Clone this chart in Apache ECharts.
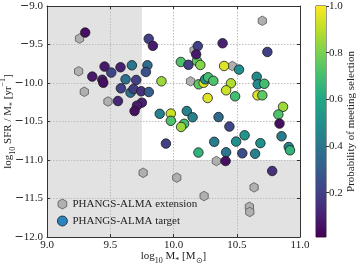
<!DOCTYPE html>
<html><head><meta charset="utf-8">
<script src="https://cdn.jsdelivr.net/npm/echarts@6/dist/echarts.min.js"></script>
<style>html,body{margin:0;padding:0;background:#fff}#c{width:357px;height:263px}</style>
</head><body><div id="c"></div>
<script>
// ---- data ----
const targetMass = [9.302,9.358,9.455,9.437,9.445,9.508,9.581,9.671,9.621,9.705,9.561,9.584,9.660,9.684,9.745,9.805,9.750,9.711,9.692,9.804,9.837,9.794,9.782,9.905,9.891,9.979,9.979,10.058,10.118,10.185,10.212,10.192,10.179,10.388,10.400,10.518,10.199,10.238,10.250,10.274,10.315,10.270,10.454,10.416,10.487,10.658,10.666,10.718,10.664,10.702,10.742,10.105,10.151,10.084,10.060,10.356,10.442,10.866,10.829,10.838,9.940,10.197,10.322,10.416,10.495,10.562,10.544,10.645,10.687,10.854,10.911,10.921,10.412,10.780];
const targetSSFR = [-9.345,-9.917,-9.787,-9.958,-9.997,-9.865,-9.796,-9.770,-9.952,-9.961,-10.234,-10.069,-10.125,-10.078,-10.108,-10.117,-10.255,-10.294,-10.364,-9.426,-9.517,-9.770,-9.857,-9.978,-10.400,-10.397,-10.491,-9.727,-9.764,-9.714,-9.766,-9.521,-9.627,-9.484,-9.779,-9.826,-10.017,-9.997,-9.952,-9.926,-9.971,-10.195,-10.004,-10.095,-10.173,-9.919,-10.017,-10.010,-10.160,-10.160,-9.597,-10.364,-10.445,-10.530,-10.571,-10.442,-10.566,-10.309,-10.409,-10.527,-10.787,-10.903,-10.764,-10.900,-10.761,-10.679,-10.913,-10.919,-10.781,-10.692,-10.831,-10.874,-11.013,-11.143];
const targetProb = [0.05,0.08,0.08,0.08,0.05,0.22,0.10,0.40,0.38,0.20,0.12,0.20,0.38,0.18,0.15,0.30,0.10,0.08,0.05,0.20,0.08,0.35,0.25,0.85,0.45,0.92,0.72,0.72,0.20,0.75,0.82,0.20,0.08,0.10,0.95,0.50,0.75,0.95,0.50,0.70,0.72,0.95,0.88,0.92,0.70,0.48,0.48,0.70,0.95,0.75,0.20,0.45,0.45,0.70,0.85,0.35,0.22,0.85,0.72,0.05,0.20,0.65,0.42,0.40,0.50,0.52,0.25,0.45,0.50,0.42,0.45,0.65,0.05,0.15];
const extMass = [9.257,9.250,9.295,9.482,10.163,10.465,10.702,10.135,10.339,9.760,10.026,10.637,10.242,10.600,10.603];
const extSSFR = [-9.423,-9.848,-10.114,-10.240,-9.575,-9.779,-9.192,-9.978,-11.013,-11.166,-11.229,-11.355,-11.468,-11.608,-11.675];
const seriesNames = ['PHANGS-ALMA extension','PHANGS-ALMA target'];
const xRange = [9.0, 11.0], yRange = [-12.0, -9.0], tickStep = 0.5;
const selectionBox = [[9.75, -9.0], [11.0, -11.0]];
const cbarRange = [0.01, 1.0];
const cbarTicks = [0.2, 0.4, 0.6, 0.8, 1.0];
const cbarTitle = 'Probability of meeting selection';
// ---- style ----
const viridis = ['#440154','#482475','#414487','#355f8d','#2a788e','#21918c','#22a884','#44bf70','#7ad151','#bddf26','#fde725'];
const FONT = 'Liberation Serif';
const FS = 11;
const hexPath = 'path://M0,-1L-0.866,-0.5L-0.866,0.5L0,1L0.866,0.5L0.866,-0.5Z';
const rich = {
  n: {fontFamily: FONT, fontSize: FS, color: '#222', lineHeight: 12},
  m: {fontFamily: 'DejaVu Sans', fontSize: FS, color: '#222', lineHeight: 12},
  sub: {fontFamily: FONT, fontSize: 8, color: '#222', lineHeight: 12, verticalAlign: 'bottom', padding: [0,0,-3,0]},
  sup: {fontFamily: FONT, fontSize: 8, color: '#222', lineHeight: 12, verticalAlign: 'top', padding: [-3,0,0,0]}
};
const fmt = v => (v < 0 ? '{m|\u2212}' : '') + '{n|' + Math.abs(v).toFixed(1) + '}';
const targetData = targetMass.map((m, i) => [m, targetSSFR[i], targetProb[i]]);
const extData = extMass.map((m, i) => [m, extSSFR[i]]);
const gridLine = {show: true, lineStyle: {color: '#bdbdbd', type: [1.5, 1.5], width: 1}};
const axLine = {show: true, lineStyle: {color: '#333', width: 1}};
const tick = {show: true, inside: true, length: 3, lineStyle: {color: '#333'}};
const lbl = {fontFamily: FONT, fontSize: FS, color: '#222'};

const chart = echarts.init(document.getElementById('c'), null, {renderer: 'canvas'});
chart.setOption({
  animation: false,
  backgroundColor: '#fff',
  grid: [
    {left: 47, top: 6, width: 253, height: 231, show: true, backgroundColor: '#e2e2e2', borderWidth: 0, outerBoundsMode: 'none', containLabel: false},
    {left: 316, top: 6, width: 10, height: 231, show: true, borderColor: '#333', borderWidth: 1, outerBoundsMode: 'none', containLabel: false}
  ],
  xAxis: [
    {gridIndex: 0, type: 'value', min: xRange[0], max: xRange[1], interval: tickStep, z: 2,
     axisLine: axLine, axisTick: tick, splitLine: gridLine,
     axisLabel: Object.assign({formatter: v => v.toFixed(1), margin: 3}, lbl),
     name: '{n|log}{sub|10}{n| M}{sub|*}{n| [M}{sub|\u2299}{n|]}', nameLocation: 'middle', nameGap: 13,
     nameMoveOverlap: false, nameTextStyle: {rich: rich}},
    {gridIndex: 0, type: 'value', position: 'top', min: xRange[0], max: xRange[1], interval: tickStep, z: 2,
     axisLine: axLine, axisTick: tick, splitLine: {show: false}, axisLabel: {show: false}},
    {gridIndex: 1, type: 'category', data: ['c'], show: false}
  ],
  yAxis: [
    {gridIndex: 0, type: 'value', min: yRange[0], max: yRange[1], interval: tickStep, z: 2,
     axisLine: axLine, axisTick: tick, splitLine: gridLine,
     axisLabel: {formatter: fmt, margin: 4, rich: rich},
     name: '{n|log}{sub|10}{n| SFR / M}{sub|*}{n| [yr}{sup|\u22121}{n|]}', nameLocation: 'middle', nameGap: 33,
     nameMoveOverlap: false, nameTextStyle: {rich: rich}},
    {gridIndex: 0, type: 'value', position: 'right', min: yRange[0], max: yRange[1], interval: tickStep, z: 2,
     axisLine: axLine, axisTick: tick, splitLine: {show: false}, axisLabel: {show: false}},
    {gridIndex: 1, type: 'value', position: 'right', min: cbarRange[0], max: cbarRange[1], z: 3,
     axisLine: {show: false}, splitLine: {show: false},
     axisTick: {show: true, inside: false, length: 3, customValues: cbarTicks, lineStyle: {color: '#333'}},
     axisLabel: Object.assign({formatter: v => v.toFixed(1), margin: 3, customValues: cbarTicks}, lbl),
     name: cbarTitle, nameLocation: 'middle', nameGap: 20, nameMoveOverlap: false,
     nameTextStyle: {fontFamily: FONT, fontSize: FS, color: '#222'}}
  ],
  visualMap: {type: 'continuous', show: false, min: cbarRange[0], max: cbarRange[1], dimension: 2, seriesIndex: 2,
    inRange: {color: viridis}},
  legend: {left: 57, top: 198, orient: 'vertical', padding: 0, itemGap: 5, itemWidth: 10, itemHeight: 10,
    textStyle: {fontFamily: FONT, fontSize: FS, color: '#222', lineHeight: 12},
    data: [
      {name: seriesNames[0], icon: hexPath, itemStyle: {color: '#b0b0b0', borderColor: '#555', borderWidth: 0.8}},
      {name: seriesNames[1], icon: 'circle', itemStyle: {color: '#2b83c0', borderColor: '#1a1a1a', borderWidth: 0.8}}
    ]},
  series: [
    {type: 'scatter', name: 'selection', xAxisIndex: 0, yAxisIndex: 0, data: [], z: 1, silent: true,
     markArea: {silent: true, itemStyle: {color: '#ffffff'},
       data: [[{coord: selectionBox[0]}, {coord: selectionBox[1]}]]}},
    {type: 'scatter', name: seriesNames[0], xAxisIndex: 0, yAxisIndex: 0, data: extData, z: 3,
     symbol: hexPath, symbolKeepAspect: true, symbolSize: 9.5,
     itemStyle: {color: '#b0b0b0', borderColor: '#555', borderWidth: 0.8, opacity: 1}},
    {type: 'scatter', name: seriesNames[1], xAxisIndex: 0, yAxisIndex: 0, data: targetData, z: 4,
     symbol: 'circle', symbolSize: 9.5,
     itemStyle: {borderColor: '#1a1a1a', borderWidth: 0.8, opacity: 1}},
    {type: 'bar', xAxisIndex: 2, yAxisIndex: 2, data: [cbarRange[1]], barWidth: '100%', silent: true, z: 2,
     itemStyle: {color: {type: 'linear', x: 0, y: 1, x2: 0, y2: 0,
       colorStops: viridis.map((c, i) => ({offset: i / (viridis.length - 1), color: c}))}}}
  ]
});
</script></body></html>
